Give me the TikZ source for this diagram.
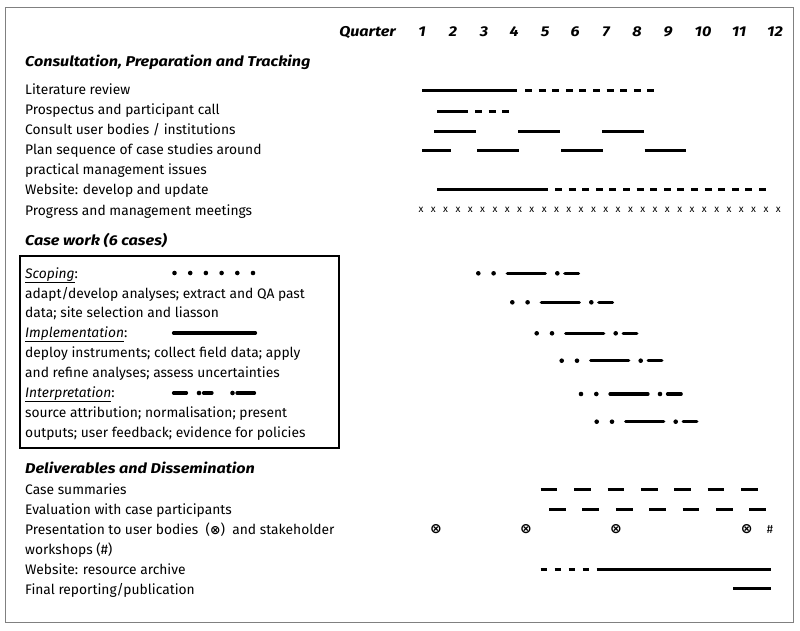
\documentclass[tikz,border=0pt]{standalone}
\usepackage{fontspec}
\setmainfont{Fira Sans}
\newfontfamily\symfont{DejaVu Sans}
\tikzset{mybar/.style = {line width=3pt},
	mydash/.style = {mybar,dash pattern=on 7pt off 6.6pt},
	mylong/.style = {mybar,dash pattern=on 16.7pt off 16.7pt},
	casebar/.style = {line width=3.2pt,line cap=round},
	mytext/.style = {anchor=base west,inner sep=0pt,font=\fontsize{13.8}{16}\selectfont},
	myhead/.style = {mytext,font=\fontsize{14.2}{16}\selectfont\bfseries\itshape\addfontfeature{FakeStretch=1.14}}}
\NewDocumentCommand{\fcase}{m m}{%
	\fill (#1,#2) circle (2.3);
	\fill (#1+15.3,#2) circle (2.3);
	\draw[casebar] (#1+29,#2) -- (#1+67,#2);
	\fill (#1+79,#2) circle (2.3);
	\draw[casebar] (#1+86.5,#2) -- (#1+100.2,#2);
}
\NewDocumentCommand{\fotimes}{}{{\symfont\bfseries ⊗}}
\begin{document}
\begin{tikzpicture}[x=1pt,y=-1pt]
\useasboundingbox (0,0) rectangle (800,631);
\draw[gray,line width=1pt] (5,8) rectangle (793,622);
% quarters
\node[myhead,anchor=base east] (quarter) at (396,37) {Quarter};
\foreach \q/\x in {1/422,2/453,3/484,4/514,5/545,6/575,7/606,8/637,9/668,10/703,11/739,12/775}
	\node[myhead,anchor=base] (q\q) at (\x,37) {\q};
% consultation
\node[myhead] (cons) at (25,67) {Consultation, Preparation and Tracking};
\node[mytext] (lit) at (25,95) {Literature review};
\node[mytext] (pros) at (25,115) {Prospectus and participant call};
\node[mytext] (user) at (25,135) {Consult user bodies / institutions};
\node[mytext] (plan) at (25,155) {Plan sequence of case studies around};
\node[mytext] (plantwo) at (25,175) {practical management issues};
\node[mytext] (web) at (25,195) {Website: develop and update};
\node[mytext] (prog) at (25,215) {Progress and management meetings};
\draw[mybar] (422,90.7) -- (517,90.7);
\draw[mydash] (525,90.7) -- (658,90.7);
\draw[mybar] (437,111.7) -- (468,111.7);
\draw[mydash] (475,111.7) -- (510,111.7);
\foreach \a in {434,518,602}
	\draw[mybar] (\a,131.7) -- (\a+42,131.7);
\draw[mybar] (422,151) -- (451,151);
\foreach \a in {477,561,644.7}
	\draw[mybar] (\a,151) -- (\a+41.6,151);
\draw[mybar] (437,190) -- (548,190);
\draw[mydash] (555,190) -- (771,190);
\foreach \i in {0,...,29}
	\node[font=\fontsize{10}{12}\selectfont,inner sep=0pt] (meet\i) at (421+\i*12.32,209.5) {x};
% case work
\node[myhead] (casework) at (25,245) {Case work (6 cases)};
\draw[line width=1.2pt] (20,256) rectangle (339,448);
\node[mytext] (scop) at (25,278) {\underline{\textit{Scoping}}:};
\node[mytext] (scopa) at (25,298) {adapt/develop analyses; extract and QA past};
\node[mytext] (scopb) at (25,317) {data; site selection and liasson};
\node[mytext] (impl) at (25,337) {\underline{\textit{Implementation}}:};
\node[mytext] (impla) at (25,357) {deploy instruments; collect field data; apply};
\node[mytext] (implb) at (25,377) {and refine analyses; assess uncertainties};
\node[mytext] (intp) at (25,397) {\underline{\textit{Interpretation}}:};
\node[mytext] (intpa) at (25,417) {source attribution; normalisation; present};
\node[mytext] (intpb) at (25,437) {outputs; user feedback; evidence for policies};
\foreach \i in {0,...,5}
	\fill (174.5+\i*15.7,273) circle (2.3);
\draw[casebar] (173.5,333) -- (255.5,333);
\draw[casebar] (173.5,393) -- (186.5,393);
\fill (199,393) circle (2.3);
\draw[casebar] (203.5,393) -- (212,393);
\fill (232.5,393) circle (2.3);
\draw[casebar] (237,393) -- (254.5,393);
\fcase{478.3}{273.3}
\fcase{512.3}{302.3}
\fcase{536.7}{333.3}
\fcase{561.7}{360.7}
\fcase{581}{394}
\fcase{596.7}{421.7}
% deliverables
\node[myhead] (deli) at (25,473) {Deliverables and Dissemination};
\node[mytext] (summ) at (25,494) {Case summaries};
\node[mytext] (eval) at (25,514) {Evaluation with case participants};
\node[mytext] (pres) at (25,534) {Presentation to user bodies\ \ ({\fontsize{12.5}{12}\selectfont\fotimes})\ \ and stakeholder};
\node[mytext] (presb) at (25,554) {workshops (\#)};
\node[mytext] (arch) at (25,574) {Website: resource archive};
\node[mytext] (final) at (25,594) {Final reporting/publication};
\draw[mylong] (540.7,489.3) -- (758.3,489.3);
\draw[mylong] (549,509.3) -- (766.7,509.3);
\foreach \x [count=\k] in {436,526,616,746.7}
	\node[inner sep=0pt,font=\fontsize{14}{14}\selectfont] (ws\k) at (\x,529.3) {\fotimes};
\node[inner sep=0pt,font=\fontsize{12}{14}\selectfont] (hash) at (770,529) {\#};
\draw[mybar,dash pattern=on 6pt off 8pt] (540.7,569) -- (589.3,569);
\draw[mybar] (596.7,569) -- (771,569);
\draw[mybar] (733.3,588.3) -- (771,588.3);
\end{tikzpicture}
\end{document}
